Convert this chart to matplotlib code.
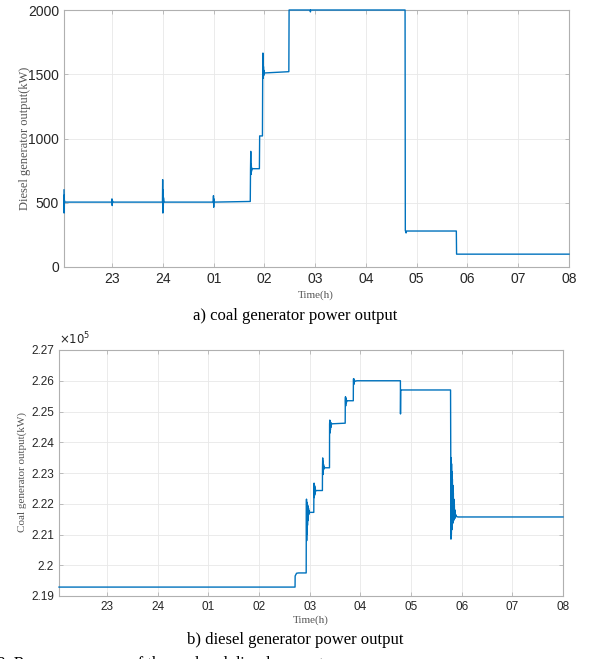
import numpy as np
import matplotlib.pyplot as plt
from matplotlib.ticker import FuncFormatter

# hours are counted from 00 of the first day, so 01 of next day = 25
tick_pos = [23, 24, 25, 26, 27, 28, 29, 30, 31, 32]
tick_lab = ['23', '24', '01', '02', '03', '04', '05', '06', '07', '08']

# a) output (kW), breakpoints incl. spikes
t_a = [22.05, 22.052, 22.054, 22.056, 22.058, 22.06,
       22.99, 22.995, 23.0, 23.005, 23.01,
       23.99, 23.994, 23.998, 24.002, 24.006, 24.01, 24.02,
       24.99, 24.995, 25.0, 25.005, 25.01,
       25.72, 25.725, 25.73, 25.735, 25.74, 25.745, 25.75, 25.76,
       25.90, 25.905,
       25.96, 25.965, 25.97, 25.975, 25.98, 25.985, 25.99, 25.995, 26.0,
       26.48, 26.485,
       26.90, 26.905, 26.91,
       28.77, 28.775, 28.79, 28.8,
       29.78, 29.785, 32.0]
p_a = [600, 420, 560, 470, 520, 505,
       505, 530, 478, 515, 505,
       505, 680, 420, 600, 460, 540, 505,
       505, 555, 465, 530, 505,
       510, 760, 900, 720, 800, 745, 770, 765,
       765, 1020,
       1020, 1510, 1665, 1470, 1560, 1490, 1530, 1505, 1510,
       1520, 2000,
       2000, 1985, 2000,
       2000, 285, 265, 280,
       280, 100, 100]

# b) output (kW)
t_b = [22.05, 26.71, 26.712, 26.74, 26.78, 26.93,
       26.932, 26.936, 26.94, 26.944, 26.948, 26.952, 26.956, 26.96, 26.964, 26.968,
       26.972, 26.976, 26.98, 26.985, 26.99, 27.0,
       27.08, 27.082, 27.086, 27.09, 27.094, 27.098, 27.102, 27.106, 27.11, 27.115, 27.12,
       27.25, 27.252, 27.256, 27.26, 27.264, 27.268, 27.272, 27.276, 27.28, 27.29,
       27.39, 27.392, 27.396, 27.40, 27.404, 27.408, 27.412, 27.416, 27.42, 27.43, 27.44,
       27.70,
       27.702, 27.706, 27.71, 27.714, 27.718, 27.722, 27.726, 27.73, 27.86,
       27.862, 27.866, 27.87, 27.874, 27.878, 27.882, 27.89, 27.93,
       28.79, 28.792, 28.796, 28.80,
       29.78, 29.784, 29.788, 29.792, 29.796, 29.80, 29.804, 29.808, 29.812, 29.816,
       29.82, 29.825, 29.83, 29.835, 29.84, 29.845, 29.85, 29.855, 29.86, 29.865,
       29.87, 29.88, 29.90, 29.93,
       32.0]
p_b = [219290, 219290, 219650, 219740, 219750, 219750,
       221250, 222150, 220800, 222050, 221000, 221900, 221300, 221950, 221450, 221900,
       221550, 221850, 221650, 221780, 221700, 221720,
       221720, 222450, 222670, 222200, 222600, 222280, 222550, 222350, 222480, 222400, 222430,
       222430, 223160, 223490, 222950, 223380, 223050, 223280, 223120, 223220, 223170,
       223170, 224590, 224720, 224300, 224700, 224400, 224650, 224480, 224620, 224580, 224600,
       224620,
       225350, 225480, 225180, 225440, 225260, 225400, 225300, 225350, 225350,
       226020, 226070, 225880, 226050, 225940, 226020, 225980, 226000,
       226000, 224920, 225700, 225700,
       225700, 223650, 220850, 223500, 221000, 223300, 221150, 223050, 221250, 222800,
       221350, 222600, 221400, 222350, 221450, 222150, 221500, 221950, 221520, 221800,
       221540, 221650, 221580, 221570,
       221570]

line_c = '#0072BD'
txt_c = '#262626'

plt.rcParams['font.family'] = 'Liberation Sans'
fig = plt.figure(figsize=(5.91, 6.59), dpi=100)


def style(ax, fs):
    ax.set_xlim(22.05, 32)
    ax.set_xticks(tick_pos)
    ax.set_xticklabels(tick_lab)
    ax.grid(True, color='#e8e8e8', lw=0.6)
    ax.set_axisbelow(True)
    ax.tick_params(direction='in', length=3, width=0.5, colors='#a8a8a8',
                   labelcolor=txt_c, labelsize=fs, top=True, right=True)
    for s in ax.spines.values():
        s.set_color('#b0b0b0')
        s.set_linewidth(0.8)


ax1 = fig.add_axes([64 / 591, 1 - 267 / 659, 505 / 591, 257 / 659])
ax1.plot(t_a, p_a, color=line_c, lw=1.0, clip_on=False, zorder=3)
ax1.set_ylim(0, 2000)
ax1.set_yticks([0, 500, 1000, 1500, 2000])
style(ax1, 10)
fig.text(0.042, 1 - 138 / 659, 'Diesel generator output(kW)', rotation=90,
         ha='center', va='center', family='Liberation Serif', fontsize=9, color='#555555')
fig.text(316 / 591, 1 - 295 / 659, 'Time(h)', ha='center', va='center',
         family='Liberation Serif', fontsize=8, color='#555555')
fig.text(295 / 591, 1 - 316 / 659, 'a) coal generator power output', ha='center', va='center',
         family='Liberation Serif', fontsize=12, color='black')

ax2 = fig.add_axes([59 / 591, 1 - 596 / 659, 504 / 591, 246 / 659])
ax2.plot(t_b, p_b, color=line_c, lw=1.0, clip_on=False, zorder=3)
ax2.set_ylim(219000, 227000)
ax2.set_yticks(np.arange(219000, 227001, 1000))
ax2.yaxis.set_major_formatter(FuncFormatter(lambda v, p: '%g' % round(v / 1e5, 4)))
style(ax2, 8.5)
ax2.text(0.0, 1.01, r'$\times 10^{5}$', transform=ax2.transAxes, ha='left', va='bottom',
         fontsize=8.5, color=txt_c)
fig.text(0.037, 1 - 472 / 659, 'Coal generator output(kW)', rotation=90,
         ha='center', va='center', family='Liberation Serif', fontsize=8, color='#555555')
fig.text(311 / 591, 1 - 620 / 659, 'Time(h)', ha='center', va='center',
         family='Liberation Serif', fontsize=8, color='#555555')
fig.text(295 / 591, 1 - 640 / 659, 'b) diesel generator power output', ha='center', va='center',
         family='Liberation Serif', fontsize=12, color='black')
# caption line of the page, cut off at the bottom edge as in the reference
fig.text(-0.005, 1 - 664 / 659, '8. Response curves of the coal and diesel generators',
         ha='left', va='center', family='Liberation Serif', fontsize=12, color='black')

fig.savefig('out.png', dpi=100)
